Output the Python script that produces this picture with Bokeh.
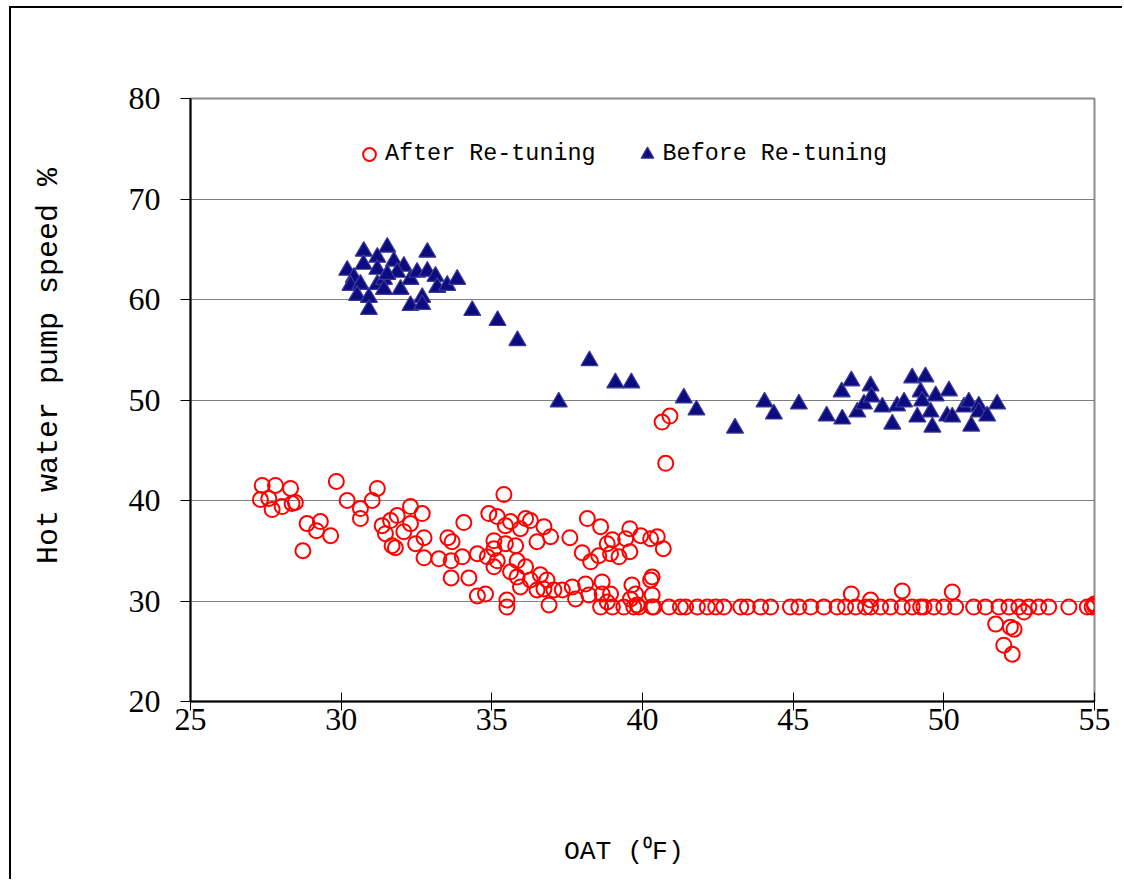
import math
from bokeh.plotting import figure
from bokeh.models import Range1d, Legend, LegendItem, LinearAxis, FixedTicker
from bokeh.embed import file_html
from bokeh.resources import INLINE

# ---- data ----
x_ticks = [25, 30, 35, 40, 45, 50, 55]
y_ticks = [20, 30, 40, 50, 60, 70, 80]
grid_ticks = [30, 40, 50, 60, 70]

before_x = [30.20, 30.75, 31.53, 31.20, 30.74, 31.75, 32.08, 31.20, 30.42, 30.31,
            30.64, 31.20, 31.42, 31.42, 30.53, 30.92, 30.92, 31.97, 32.30, 32.52,
            32.86, 32.86, 33.13, 33.19, 33.52, 33.85, 32.30, 32.69, 32.69, 34.35,
            31.86, 31.53, 35.19, 35.85, 37.22, 38.24, 39.10, 39.63, 41.37, 41.79,
            43.07, 44.05, 44.36, 45.19, 46.11, 46.61, 46.63, 46.93, 47.13, 47.35,
            47.57, 47.60, 47.96, 48.29, 48.45, 48.68, 48.95, 49.39, 49.23, 49.28,
            49.12, 49.56, 49.62, 49.73, 50.17, 50.11, 50.28, 50.67, 50.83, 50.91,
            51.16, 51.16, 51.44, 51.77]
before_y = [62.9, 64.8, 65.2, 64.2, 63.5, 63.8, 63.3, 63.0, 62.2, 61.4,
            61.5, 61.5, 62.0, 61.0, 60.4, 60.2, 59.0, 61.0, 62.0, 62.7,
            64.7, 62.8, 62.3, 61.2, 61.4, 62.0, 59.4, 60.2, 59.5, 58.9,
            62.7, 62.5, 57.9, 55.9, 49.8, 53.9, 51.7, 51.7, 50.2, 49.0,
            47.2, 49.8, 48.6, 49.6, 48.4, 50.8, 48.1, 51.9, 48.8, 49.6,
            51.4, 50.3, 49.3, 47.6, 49.4, 49.8, 52.2, 52.3, 50.8, 49.9,
            48.3, 48.8, 47.3, 50.4, 50.9, 48.4, 48.3, 49.3, 49.8, 47.4,
            49.4, 48.8, 48.4, 49.6]

after_x = [27.38, 27.32, 27.60, 27.82, 27.71, 28.04, 28.32, 28.37, 28.48, 29.84,
           30.20, 28.87, 29.31, 29.18, 29.65, 28.73, 30.64, 30.64, 31.03, 31.20,
           31.36, 31.64, 31.86, 31.47, 32.08, 32.30, 32.30, 32.69, 31.69, 31.80,
           32.47, 32.75, 32.75, 33.24, 33.54, 33.68, 34.07, 33.65, 33.65, 34.02,
           34.24, 34.52, 34.52, 34.79, 34.90, 35.18, 35.40, 35.45, 35.62, 35.95,
           36.12, 36.28, 36.73, 36.95, 36.50, 35.07, 35.45, 35.79, 35.07, 34.85,
           35.18, 35.07, 35.84, 36.12, 35.84, 35.62, 35.95, 36.28, 36.61, 36.50,
           36.83, 36.73, 37.06, 36.90, 35.50, 35.50,
           40.65, 40.91, 40.77, 38.17, 38.61, 37.59, 38.00, 38.28, 38.55, 38.83,
           39.00, 38.94, 39.22, 39.44, 39.58, 39.58, 39.94, 40.27, 40.49, 40.69,
           37.34, 37.67, 37.78, 38.11, 38.22, 38.66, 38.66, 38.94, 38.83, 39.65,
           39.77, 39.60, 39.82, 40.32, 40.27, 40.32, 40.38, 46.93,
           38.61, 39.00, 39.38, 39.71, 39.88, 40.32, 40.88, 41.26, 41.43, 41.82,
           42.15, 42.43, 42.70, 43.26, 43.48, 43.92, 44.25, 44.91, 45.19, 45.58,
           46.02, 46.46, 46.74, 47.07, 47.40, 47.57, 47.90, 48.23, 48.62, 48.95,
           49.23, 49.34, 49.67, 50.00, 50.39, 50.99, 51.38, 51.83, 52.16, 52.49,
           52.82, 53.15, 53.48, 54.15, 54.76, 54.92, 55.00, 55.00,
           47.57, 48.62, 50.28, 51.72, 51.99, 52.27, 52.33, 52.21, 52.66]
after_y = [41.5, 40.1, 40.2, 41.5, 39.1, 39.4, 41.2, 39.7, 39.8, 41.9,
           40.0, 37.7, 37.9, 37.0, 36.5, 35.0, 39.2, 38.2, 40.0, 41.2,
           37.5, 38.0, 38.5, 36.7, 36.9, 39.4, 37.7, 38.7, 35.5, 35.3,
           35.7, 36.3, 34.3, 34.2, 36.3, 35.9, 37.8, 34.0, 32.3, 34.4,
           32.3, 34.7, 30.5, 30.7, 38.7, 38.4, 40.6, 37.5, 37.9, 37.2,
           38.2, 38.0, 37.4, 36.4, 35.9, 36.0, 35.7, 35.5, 35.2, 34.4,
           34.0, 33.4, 34.0, 33.4, 32.4, 32.9, 31.4, 32.1, 32.6, 31.1,
           32.1, 31.2, 31.1, 29.6, 30.1, 29.4,
           47.8, 48.4, 43.7, 38.2, 37.4, 36.3, 34.8, 33.9, 34.5, 35.7,
           36.1, 34.7, 34.4, 36.2, 37.2, 34.9, 36.5, 36.2, 36.4, 35.2,
           31.1, 31.4, 30.2, 31.7, 30.6, 31.9, 30.7, 30.7, 29.9, 31.6,
           30.7, 30.2, 29.6, 32.4, 32.1, 30.6, 29.4, 30.7,
           29.4, 29.4, 29.4, 29.4, 29.4, 29.4, 29.4, 29.4, 29.4, 29.4,
           29.4, 29.4, 29.4, 29.4, 29.4, 29.4, 29.4, 29.4, 29.4, 29.4,
           29.4, 29.4, 29.4, 29.4, 29.4, 29.4, 29.4, 29.4, 29.4, 29.4,
           29.4, 29.4, 29.4, 29.4, 29.4, 29.4, 29.4, 29.4, 29.4, 29.4,
           29.4, 29.4, 29.4, 29.4, 29.4, 29.4, 29.5, 29.7,
           30.1, 31.0, 30.9, 27.7, 25.6, 24.7, 27.2, 27.4, 28.9]

after_label = "After Re-tuning"
before_label = "Before Re-tuning"
x_title = "OAT (\u2070F)"
y_title = "Hot water pump speed %"

# layout constants (where the axis titles sit, as axis positions)
X_TITLE_AT = 39.38
Y_TITLE_AT = 73.08

# ---- figure ----
p = figure(width=1113, height=873, x_range=Range1d(25, 55), y_range=Range1d(20, 80),
           output_backend="svg", toolbar_location=None,
           min_border_left=179, min_border_right=30, min_border_top=90, min_border_bottom=180)
p.styles = {"margin-left": "9px", "margin-top": "6px",
            "border-left": "2px solid black", "border-top": "2px solid black"}

p.background_fill_color = "white"
p.border_fill_color = "white"
p.outline_line_color = "#8c8c8c"
p.outline_line_width = 2

p.xgrid.visible = False
p.ygrid.ticker = FixedTicker(ticks=grid_ticks)
p.ygrid.grid_line_color = "black"
p.ygrid.grid_line_width = 1
p.ygrid.grid_line_dash = "1 1"

p.xaxis.ticker = FixedTicker(ticks=x_ticks)
p.yaxis.ticker = FixedTicker(ticks=y_ticks)
for ax in (p.xaxis, p.yaxis):
    ax.axis_line_color = "black"
    ax.axis_line_width = 2
    ax.major_tick_line_color = "black"
    ax.major_tick_line_width = 1
    ax.minor_tick_line_color = None
    ax.major_label_text_font = "Liberation Serif"
    ax.major_label_text_font_size = "32px"
    ax.major_label_text_color = "black"
p.yaxis.major_tick_out = 10
p.yaxis.major_tick_in = 0
p.yaxis.major_label_standoff = 20
p.xaxis.major_tick_out = 9
p.xaxis.major_tick_in = 9
p.xaxis.major_label_standoff = -2

# axis titles, drawn as the single label of an extra bare axis
xt_axis = LinearAxis(ticker=FixedTicker(ticks=[X_TITLE_AT]),
                     major_label_overrides={X_TITLE_AT: x_title},
                     axis_line_color=None, major_tick_line_color=None, minor_tick_line_color=None,
                     major_tick_in=0, major_tick_out=0, major_label_standoff=104,
                     major_label_text_font="Liberation Mono", major_label_text_font_size="26.4px",
                     major_label_text_color="black")
p.add_layout(xt_axis, "below")
yt_axis = LinearAxis(ticker=FixedTicker(ticks=[Y_TITLE_AT]),
                     major_label_overrides={Y_TITLE_AT: y_title},
                     major_label_orientation=math.pi / 2,
                     axis_line_color=None, major_tick_line_color=None, minor_tick_line_color=None,
                     major_tick_in=0, major_tick_out=0, major_label_standoff=76,
                     major_label_text_font="Liberation Mono", major_label_text_font_size="30px",
                     major_label_text_color="black")
p.add_layout(yt_axis, "left")

r_after = p.scatter(after_x, after_y, marker="circle", size=15, fill_color=None,
                    line_color="#ff0000", line_width=2)
r_before = p.scatter(before_x, before_y, marker="triangle", size=17, fill_color="#0c0c80",
                     line_color="#3a3a96", line_width=1.2)

legend = Legend(items=[LegendItem(label=after_label, renderers=[r_after]),
                       LegendItem(label=before_label, renderers=[r_before])],
                orientation="horizontal", location=(163, 529),
                glyph_width=32, glyph_height=36, label_standoff=0, spacing=35,
                padding=0, margin=0, border_line_color=None, background_fill_alpha=0,
                label_text_font="Liberation Mono", label_text_font_size="23.4px",
                label_text_color="black", label_text_baseline="middle")
p.add_layout(legend)

open("out.html", "w").write(file_html(p, INLINE))
